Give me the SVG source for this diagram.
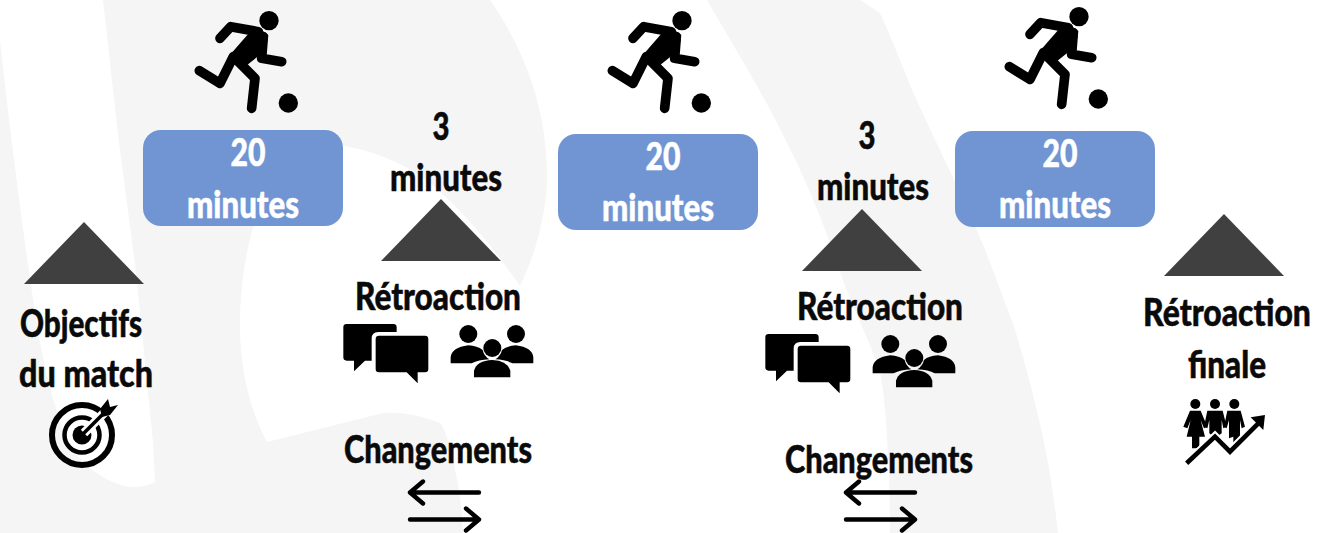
<svg xmlns="http://www.w3.org/2000/svg" xmlns:xlink="http://www.w3.org/1999/xlink" width="1318" height="533" viewBox="0 0 1318 533">
<style>
.t{font-family:"Lato","Liberation Sans",sans-serif;font-weight:900;font-size:37px;text-anchor:middle;fill:#0a0a0a;stroke:#0a0a0a;stroke-width:.5px}
.w{fill:#fff;stroke:#fff}
.box{fill:#7195d3}
.tri{fill:#404040}
.ln{fill:none;stroke:#000;stroke-linecap:round;stroke-linejoin:round}
.g{fill:#f5f5f5}
</style>
<defs>
<g id="runner">
<circle cx="297" cy="62" r="29"/><circle cx="355" cy="309" r="29"/>
<path d="M150 115L182 80L265 95M280 110L275 175L335 185M205 185L255 235L245 325M190 170L150 250L88 212" fill="none" stroke="#000" stroke-width="29" stroke-linecap="round" stroke-linejoin="round"/>
<path d="M262 82L295 105L288 150L225 200L175 170L232 105Z"/>
</g>
<g id="talk">
<path d="M50 162H190Q200 162 200 172V186H145Q125 186 125 206V272H105L72 304V272H50Q40 272 40 262V172Q40 162 50 162Z"/>
<path d="M147 197H285Q295 197 295 207V297Q295 307 285 307H263V340L230 307H147Q137 307 137 297V207Q137 197 147 197Z"/>
<circle cx="415" cy="192" r="27"/><circle cx="558" cy="192" r="27"/><circle cx="487" cy="234" r="27"/>
<path d="M362 280V262Q365 232 415 226Q442 228 458 240Q462 258 478 268Q445 270 425 280Z"/>
<path d="M610 280V262Q607 232 558 226Q530 228 516 240Q512 258 496 268Q530 270 548 280Z"/>
<path d="M432 322V302Q440 272 487 270Q532 272 541 302V322Z"/>
</g>
<g id="swap">
<path class="ln" stroke-width="4.4" d="M2 0H71M15 -11L2 0L15 11M2 27H70M58 16L71 27L58 38"/>
</g>
</defs>
<rect width="1318" height="533" fill="#fff"/>
<g id="background">
<path class="g" d="M0 40V533H463C462 510 460 490 455 470C450 445 445 428 440 423C420 415 400 412 383 413L267 442C250 410 240 370 240 325C240 290 245 255 253 228C280 190 310 160 343 146C370 150 395 160 420 175C460 205 495 250 520 286C535 255 547 215 547 175C547 110 525 50 490 0H103L118 135L136 272L153 442L155 482Q135 492 113 482Q85 470 67 442Q48 390 37 326Q15 180 0 40Z"/>
<path class="g" d="M707 0C750 75 800 150 840 272C855 315 870 340 880 372C886 400 890 470 890 533H1058C1052 480 1045 430 1013 323C1000 290 990 260 973 221C950 170 930 130 913 92C900 60 890 35 880 13L860 0Z"/>
</g>
<g id="runner-1"><use xlink:href="#runner" href="#runner" transform="translate(170 0) scale(.3333)"/></g>
<g id="runner-2"><use xlink:href="#runner" href="#runner" transform="translate(583 0) scale(.3333)"/></g>
<g id="runner-3"><use xlink:href="#runner" href="#runner" transform="translate(980 -4) scale(.3333)"/></g>
<g id="box-1"><rect class="box" x="143" y="130" width="200" height="96" rx="18"/>
<text class="t w" x="248" y="166" textLength="35" lengthAdjust="spacingAndGlyphs">20</text><text class="t w" x="243" y="218" textLength="112" lengthAdjust="spacingAndGlyphs">minutes</text></g>
<g id="box-2"><rect class="box" x="558" y="134" width="200" height="96" rx="18"/>
<text class="t w" x="663" y="170" textLength="35" lengthAdjust="spacingAndGlyphs">20</text><text class="t w" x="658" y="221" textLength="112" lengthAdjust="spacingAndGlyphs">minutes</text></g>
<g id="box-3"><rect class="box" x="955" y="131" width="200" height="96" rx="18"/>
<text class="t w" x="1060" y="167" textLength="35" lengthAdjust="spacingAndGlyphs">20</text><text class="t w" x="1055" y="218" textLength="112" lengthAdjust="spacingAndGlyphs">minutes</text></g>
<g id="pause-1"><text class="t" x="441" y="140" textLength="17" lengthAdjust="spacingAndGlyphs">3</text><text class="t" x="446" y="191" textLength="112" lengthAdjust="spacingAndGlyphs">minutes</text><polygon class="tri" points="441,199 501,261 381,261"/></g>
<g id="pause-2"><text class="t" x="867" y="149" textLength="17" lengthAdjust="spacingAndGlyphs">3</text><text class="t" x="873" y="200" textLength="112" lengthAdjust="spacingAndGlyphs">minutes</text><polygon class="tri" points="862,209 922,271 802,271"/></g>
<g id="objectifs"><polygon class="tri" points="84,222 144,284 24,284"/>
<text class="t" x="81" y="337" textLength="122" lengthAdjust="spacingAndGlyphs">Objectifs</text><text class="t" x="86" y="387" textLength="134" lengthAdjust="spacingAndGlyphs">du match</text>
<g fill="none" stroke="#000"><circle cx="82" cy="435" r="30" stroke-width="6"/><circle cx="82" cy="435" r="17.5" stroke-width="4.5"/></g><circle cx="82" cy="435" r="9.5"/>
<path d="M84 433L110 407" stroke="#fff" stroke-width="9"/><path d="M82 435L106 411" stroke="#000" stroke-width="3.5"/><path d="M100 409L108 399L110 407L118 405L110 415L102 417Z"/></g>
<g id="retro-1"><text class="t" x="438" y="310" textLength="166" lengthAdjust="spacingAndGlyphs">Rétroaction</text><use xlink:href="#talk" href="#talk" transform="translate(330 270) scale(.3333)"/></g>
<g id="retro-2"><text class="t" x="880" y="320" textLength="166" lengthAdjust="spacingAndGlyphs">Rétroaction</text><use xlink:href="#talk" href="#talk" transform="translate(752 280) scale(.3333)"/></g>
<g id="change-1"><text class="t" x="438" y="463" textLength="188" lengthAdjust="spacingAndGlyphs">Changements</text><use xlink:href="#swap" href="#swap" transform="translate(408 492.5)"/></g>
<g id="change-2"><text class="t" x="879" y="473" textLength="188" lengthAdjust="spacingAndGlyphs">Changements</text><use xlink:href="#swap" href="#swap" transform="translate(844 492.5)"/></g>
<g id="finale"><polygon class="tri" points="1224,214 1284,276 1164,276"/>
<text class="t" transform="translate(1227 326) scale(.862 1)">Rétroaction</text><text class="t" x="1227" y="378" textLength="78" lengthAdjust="spacingAndGlyphs">finale</text>
<g transform="translate(1130 280) scale(.3333)">
<circle cx="196" cy="372" r="15"/><circle cx="255" cy="372" r="15"/><circle cx="313" cy="372" r="15"/>
<path d="M180 392H212L232 440L222 445L212 420L225 470H208V505H186V470H170L182 420L172 445L160 440Z"/>
<path d="M232 392H278L290 440L280 445L275 420V460L255 475L238 460V420L232 445L222 440Z"/>
<path d="M292 392H332L345 440L335 445L330 420V470L310 490V470L297 475V420L290 445L282 440Z"/>
<path d="M170 550L255 470L300 515L390 425" fill="none" stroke="#fff" stroke-width="26"/>
<path d="M170 550L255 470L300 515L385 430" fill="none" stroke="#000" stroke-width="14"/>
<polygon points="362,412 405,405 400,450"/>
</g></g>
</svg>
